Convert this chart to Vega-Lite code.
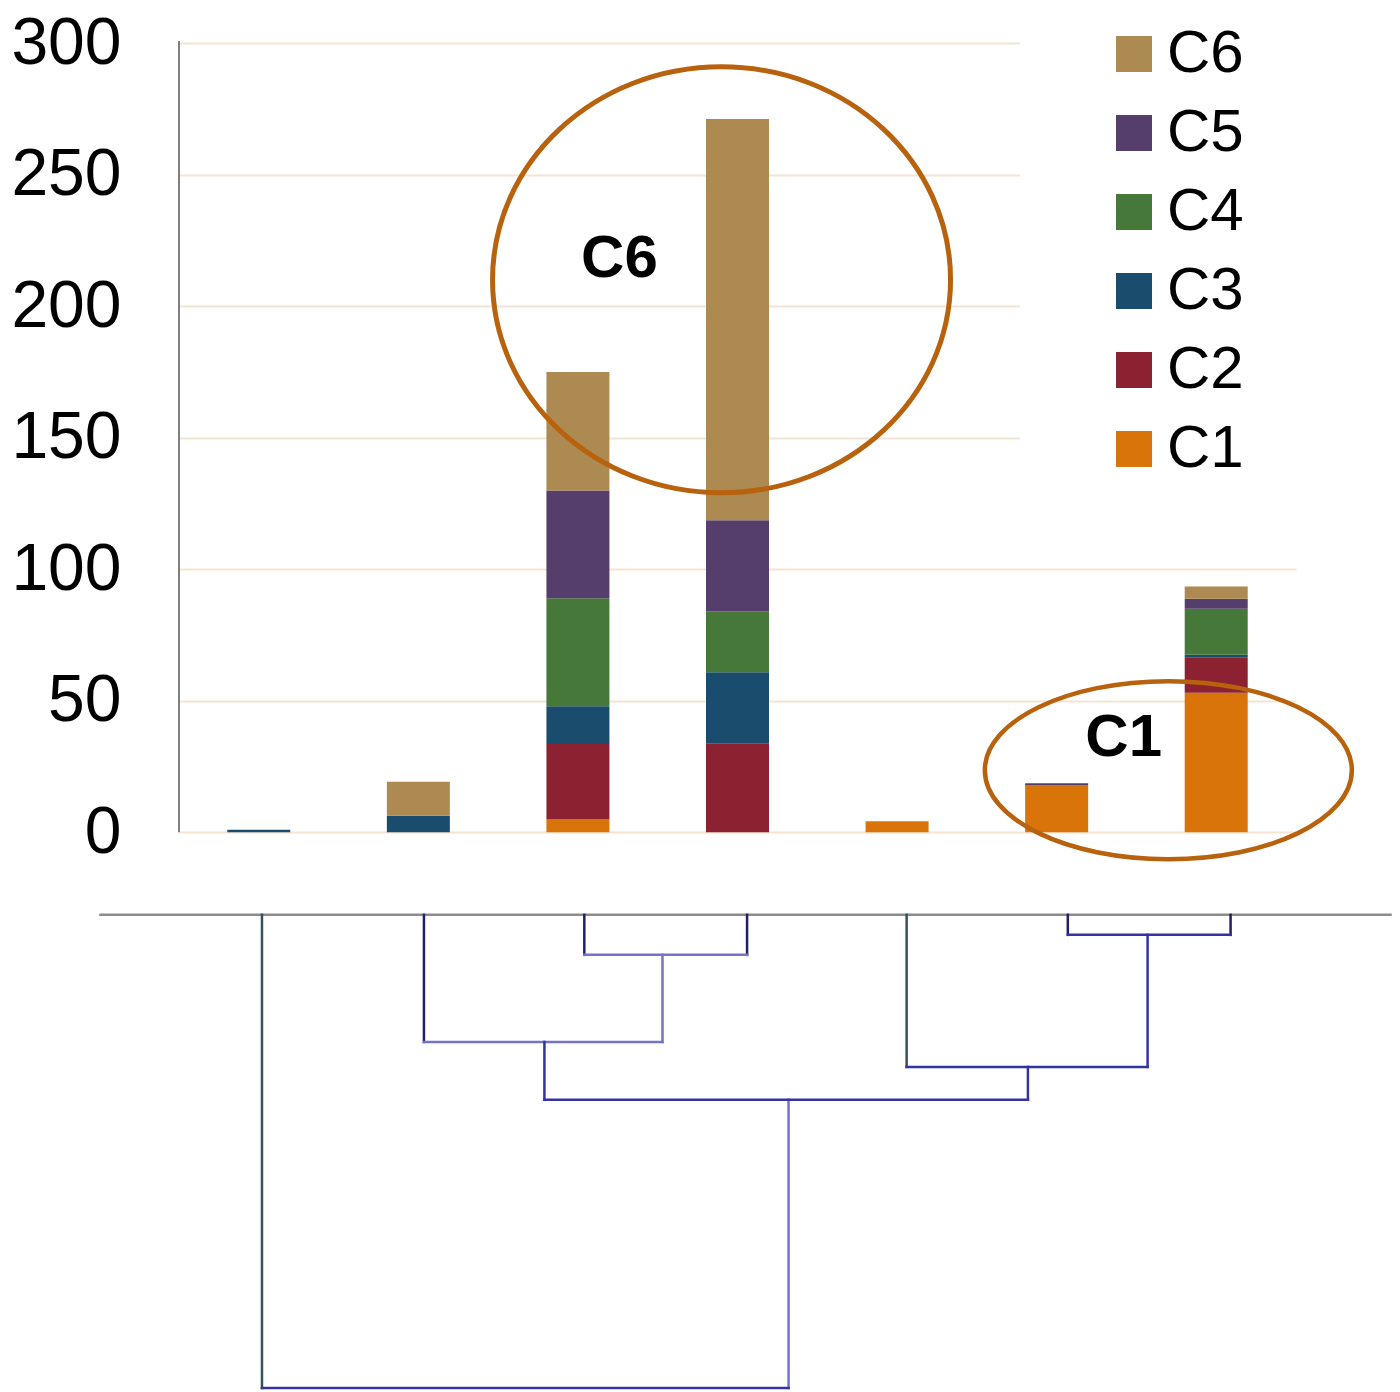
{
  "$schema": "https://vega.github.io/schema/vega-lite/v6.json",
  "width": 1117,
  "height": 1347,
  "autosize": {"type": "none"},
  "padding": {"left": 179, "top": 43, "right": 104, "bottom": 2},
  "background": "white",
  "config": {"view": {"stroke": null}, "font": "Liberation Sans",
    "axisY": {"title": null, "domain": false, "ticks": false,
      "labelFontSize": 66, "labelFont": "Liberation Sans", "labelColor": "#000000", "labelPadding": 58,
      "labelBaseline": "middle", "grid": true, "gridColor": "#F6E4D2", "gridWidth": 2},
    "axisX": {"disable": true}},
  "layer": [
    {
      "data": {"values": [
        {"sample": 1, "cluster": "C3", "value": 1.0},
        {"sample": 2, "cluster": "C3", "value": 6.3},
        {"sample": 2, "cluster": "C6", "value": 12.9},
        {"sample": 3, "cluster": "C1", "value": 5.0},
        {"sample": 3, "cluster": "C2", "value": 28.5},
        {"sample": 3, "cluster": "C3", "value": 14.4},
        {"sample": 3, "cluster": "C4", "value": 41.0},
        {"sample": 3, "cluster": "C5", "value": 41.0},
        {"sample": 3, "cluster": "C6", "value": 45.0},
        {"sample": 4, "cluster": "C2", "value": 33.8},
        {"sample": 4, "cluster": "C3", "value": 27.0},
        {"sample": 4, "cluster": "C4", "value": 23.2},
        {"sample": 4, "cluster": "C5", "value": 34.6},
        {"sample": 4, "cluster": "C6", "value": 152.5},
        {"sample": 5, "cluster": "C1", "value": 4.2},
        {"sample": 6, "cluster": "C1", "value": 18.0},
        {"sample": 6, "cluster": "C5", "value": 0.6},
        {"sample": 7, "cluster": "C1", "value": 53.0},
        {"sample": 7, "cluster": "C2", "value": 13.5},
        {"sample": 7, "cluster": "C3", "value": 1.0},
        {"sample": 7, "cluster": "C4", "value": 17.5},
        {"sample": 7, "cluster": "C5", "value": 3.8},
        {"sample": 7, "cluster": "C6", "value": 4.6}
      ]},
      "transform": [
        {"stack": "value", "groupby": ["sample"], "sort": [{"field": "cluster", "order": "ascending"}], "as": ["v0", "v1"]}
      ],
      "mark": {"type": "bar", "size": 63},
      "encoding": {
        "x": {"field": "sample", "type": "quantitative", "title": null, "scale": {"domain": [0.5, 7.5], "nice": false, "zero": false, "padding": 0}},
        "y": {"field": "v0", "type": "quantitative", "title": null, "scale": {"domain": [-212, 300], "nice": false, "zero": false, "padding": 0},
          "axis": {"values": [0, 50, 100, 150, 200, 250, 300]}},
        "y2": {"field": "v1"},
        "color": {"field": "cluster", "type": "nominal",
          "scale": {"domain": ["C6", "C5", "C4", "C3", "C2", "C1"], "range": ["#AD8A51", "#553E6B", "#46783A", "#1A4D6D", "#8C2131", "#D87409"]},
          "legend": {"title": null, "orient": "none", "legendX": 841, "legendY": -103, "symbolType": "square", "symbolSize": 1296,
            "symbolStrokeWidth": 0, "labelFontSize": 60, "labelFont": "Liberation Sans", "labelColor": "#000000",
            "rowPadding": 19, "labelOffset": 3, "padding": 84, "fillColor": "white", "strokeColor": null}}
      }
    },
    {
      "data": {"values": [{"x": 0.5, "x2": 0.5, "y": 0, "y2": 300.8}]},
      "mark": {"type": "rule", "color": "#7F7F7F", "strokeWidth": 2},
      "encoding": {
        "x": {"field": "x", "type": "quantitative", "title": null},
        "x2": {"field": "x2"},
        "y": {"field": "y", "type": "quantitative", "title": null, "axis": {"values": [0, 50, 100, 150, 200, 250, 300]}},
        "y2": {"field": "y2"}
      }
    },
    {
      "data": {"values": [{"x": 0.0, "x2": 8.1, "y": -31.4, "y2": -31.4}]},
      "mark": {"type": "rule", "color": "#8C8C8C", "strokeWidth": 2.5},
      "encoding": {
        "x": {"field": "x", "type": "quantitative", "title": null},
        "x2": {"field": "x2"},
        "y": {"field": "y", "type": "quantitative", "title": null, "axis": {"values": [0, 50, 100, 150, 200, 250, 300]}},
        "y2": {"field": "y2"}
      }
    },
    {
      "data": {"values": [
        {"x": 1.02, "x2": 1.02, "y": -31.4, "y2": -211.2},
        {"x": 5.06, "x2": 5.06, "y": -31.4, "y2": -89.2}
      ]},
      "mark": {"type": "rule", "color": "#35525E", "strokeWidth": 2.5, "strokeCap": "square"},
      "encoding": {
        "x": {"field": "x", "type": "quantitative", "title": null},
        "x2": {"field": "x2"},
        "y": {"field": "y", "type": "quantitative", "title": null, "axis": {"values": [0, 50, 100, 150, 200, 250, 300]}},
        "y2": {"field": "y2"}
      }
    },
    {
      "data": {"values": [
        {"x": 2.035, "x2": 2.035, "y": -31.4, "y2": -79.7},
        {"x": 3.04, "x2": 3.04, "y": -31.4, "y2": -46.6},
        {"x": 4.06, "x2": 4.06, "y": -31.4, "y2": -46.6},
        {"x": 6.07, "x2": 6.07, "y": -31.4, "y2": -39.0},
        {"x": 7.09, "x2": 7.09, "y": -31.4, "y2": -39.0}
      ]},
      "mark": {"type": "rule", "color": "#20206A", "strokeWidth": 2.5, "strokeCap": "square"},
      "encoding": {
        "x": {"field": "x", "type": "quantitative", "title": null},
        "x2": {"field": "x2"},
        "y": {"field": "y", "type": "quantitative", "title": null, "axis": {"values": [0, 50, 100, 150, 200, 250, 300]}},
        "y2": {"field": "y2"}
      }
    },
    {
      "data": {"values": [
        {"x": 3.04, "x2": 4.06, "y": -46.6, "y2": -46.6},
        {"x": 3.53, "x2": 3.53, "y": -46.6, "y2": -79.7},
        {"x": 2.035, "x2": 3.53, "y": -79.7, "y2": -79.7},
        {"x": 4.32, "x2": 4.32, "y": -101.7, "y2": -211.2}
      ]},
      "mark": {"type": "rule", "color": "#7472CC", "strokeWidth": 2.5, "strokeCap": "square"},
      "encoding": {
        "x": {"field": "x", "type": "quantitative", "title": null},
        "x2": {"field": "x2"},
        "y": {"field": "y", "type": "quantitative", "title": null, "axis": {"values": [0, 50, 100, 150, 200, 250, 300]}},
        "y2": {"field": "y2"}
      }
    },
    {
      "data": {"values": [
        {"x": 6.07, "x2": 7.09, "y": -39.0, "y2": -39.0},
        {"x": 6.57, "x2": 6.57, "y": -39.0, "y2": -89.2},
        {"x": 5.06, "x2": 6.57, "y": -89.2, "y2": -89.2},
        {"x": 5.82, "x2": 5.82, "y": -89.2, "y2": -101.7},
        {"x": 2.79, "x2": 2.79, "y": -79.7, "y2": -101.7},
        {"x": 2.79, "x2": 5.82, "y": -101.7, "y2": -101.7},
        {"x": 1.02, "x2": 4.32, "y": -211.2, "y2": -211.2}
      ]},
      "mark": {"type": "rule", "color": "#3434A0", "strokeWidth": 2.5, "strokeCap": "square"},
      "encoding": {
        "x": {"field": "x", "type": "quantitative", "title": null},
        "x2": {"field": "x2"},
        "y": {"field": "y", "type": "quantitative", "title": null, "axis": {"values": [0, 50, 100, 150, 200, 250, 300]}},
        "y2": {"field": "y2"}
      }
    },
    {
      "data": {"values": [{"x": 3.90, "y": 210}]},
      "mark": {"type": "point", "shape": "M -1 0 A 1 0.93 0 1 1 1 0 A 1 0.93 0 1 1 -1 0 Z", "size": 209764,
        "filled": false, "stroke": "#B8620E", "strokeWidth": 5, "opacity": 1},
      "encoding": {
        "x": {"field": "x", "type": "quantitative", "title": null},
        "y": {"field": "y", "type": "quantitative", "title": null, "axis": {"values": [0, 50, 100, 150, 200, 250, 300]}}
      }
    },
    {
      "data": {"values": [{"x": 6.70, "y": 23.6}]},
      "mark": {"type": "point", "shape": "M -1 0 A 1 0.485 0 1 1 1 0 A 1 0.485 0 1 1 -1 0 Z", "size": 134689,
        "filled": false, "stroke": "#B8620E", "strokeWidth": 4.5, "opacity": 1},
      "encoding": {
        "x": {"field": "x", "type": "quantitative", "title": null},
        "y": {"field": "y", "type": "quantitative", "title": null, "axis": {"values": [0, 50, 100, 150, 200, 250, 300]}}
      }
    },
    {
      "data": {"values": [{"label": "C6", "x": 3.26, "y": 218}, {"label": "C1", "x": 6.42, "y": 35.7}]},
      "mark": {"type": "text", "font": "Liberation Sans", "fontWeight": "bold", "fontSize": 60, "align": "center", "baseline": "middle", "color": "#000000"},
      "encoding": {
        "x": {"field": "x", "type": "quantitative", "title": null},
        "y": {"field": "y", "type": "quantitative", "title": null, "axis": {"values": [0, 50, 100, 150, 200, 250, 300]}},
        "text": {"field": "label"}
      }
    }
  ]
}
